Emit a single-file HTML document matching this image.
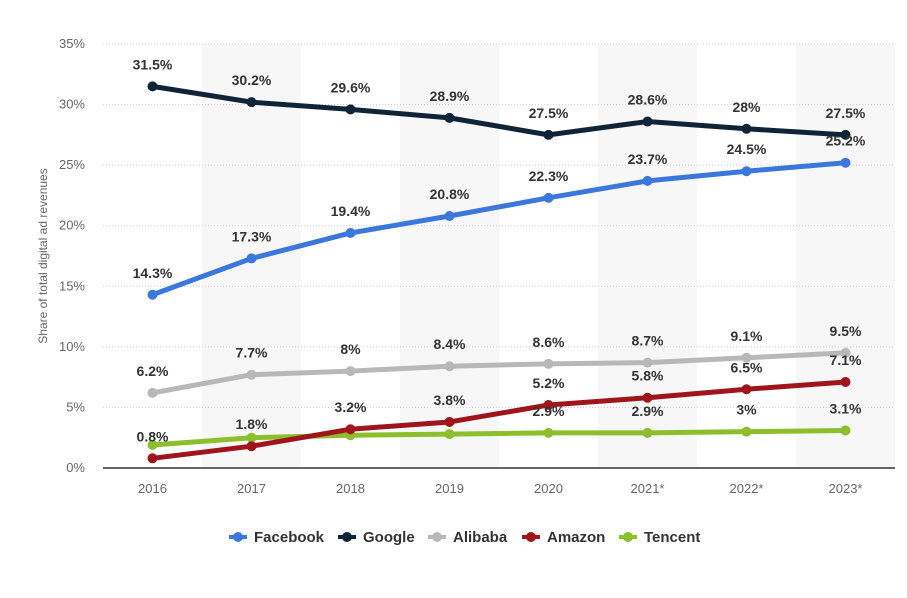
<!DOCTYPE html>
<html><head><meta charset="utf-8">
<style>
body{margin:0;background:#fff;font-family:"Liberation Sans",Arial,sans-serif;}
svg text{font-family:"Liberation Sans",Arial,sans-serif;}
</style></head>
<body>
<svg id="chart" width="907" height="593" xmlns="http://www.w3.org/2000/svg">
<g id="bands"></g><g id="grid"></g><g id="lines"></g><g id="labels"></g><g id="axes"></g><g id="legend"></g>
</svg>
<script>
const categories=["2016","2017","2018","2019","2020","2021*","2022*","2023*"];
const yTicks=[0,5,10,15,20,25,30,35];
const seriesNames=["Facebook","Google","Alibaba","Amazon","Tencent"];
const seriesColors=["#3b78dc","#0f2438","#b8b8b8","#a0151b","#8cbf2c"];
const facebook=[14.3,17.3,19.4,20.8,22.3,23.7,24.5,25.2];
const google=[31.5,30.2,29.6,28.9,27.5,28.6,28,27.5];
const alibaba=[6.2,7.7,8,8.4,8.6,8.7,9.1,9.5];
const amazon=[0.8,1.8,3.2,3.8,5.2,5.8,6.5,7.1];
const tencent=[1.9,2.5,2.7,2.8,2.9,2.9,3.0,3.1];
const facebookLabels=["14.3%","17.3%","19.4%","20.8%","22.3%","23.7%","24.5%","25.2%"];
const googleLabels=["31.5%","30.2%","29.6%","28.9%","27.5%","28.6%","28%","27.5%"];
const alibabaLabels=["6.2%","7.7%","8%","8.4%","8.6%","8.7%","9.1%","9.5%"];
const amazonLabels=["0.8%","1.8%","3.2%","3.8%","5.2%","5.8%","6.5%","7.1%"];
const tencentLabels=[null,null,null,null,"2.9%","2.9%","3%","3.1%"];
const NS="http://www.w3.org/2000/svg";
const x0=103,x1=895,y0=468,yTop=44;
const step=(x1-x0)/categories.length;
const xScale=i=>x0+step*(i+0.5);
const yScale=v=>y0-(v/35)*(y0-yTop);
function el(tag,attrs,parent){const e=document.createElementNS(NS,tag);for(const k in attrs)e.setAttribute(k,attrs[k]);parent.appendChild(e);return e;}
const bands=document.getElementById('bands'),grid=document.getElementById('grid'),lines=document.getElementById('lines'),labels=document.getElementById('labels'),axes=document.getElementById('axes'),legend=document.getElementById('legend');
categories.forEach((c,i)=>{
  if(i%2===1){const r=el('rect',{x:x0+step*i,y:yTop,width:step,height:y0-yTop,fill:'#f7f7f7'},bands);
  
  }
  const t=el('text',{x:xScale(i),y:493,'text-anchor':'middle','font-size':13,fill:'#666'},axes);t.textContent=c;
  
  
});
yTicks.forEach(v=>{
  if(v>0){const l=el('line',{x1:x0,x2:x1,y1:yScale(v),y2:yScale(v),stroke:'#ccc','stroke-dasharray':'1,2','stroke-width':1},grid);
  
  }
  const t=el('text',{x:85,y:yScale(v)+4,'text-anchor':'end','font-size':13,fill:'#666'},axes);t.textContent=v+'%';
  
  
});
const ax=el('line',{x1:x0,x2:x1,y1:y0,y2:y0,stroke:'#333','stroke-width':1.5},axes);


const yt=el('text',{x:47,y:256,'text-anchor':'middle','font-size':12,fill:'#666',transform:'rotate(-90 47 256)'},axes);yt.textContent='Share of total digital ad revenues';


const allData=[facebook,google,alibaba,amazon,tencent];
const allLabels=[facebookLabels,googleLabels,alibabaLabels,amazonLabels,tencentLabels];
[4,3,2,0,1].forEach(s=>{
  const d=allData[s];
  const p=el('polyline',{points:d.map((v,i)=>xScale(i)+','+yScale(v)).join(' '),fill:'none',stroke:seriesColors[s],'stroke-width':5,'stroke-linejoin':'round'},lines);
  
  
  d.forEach((v,i)=>{
    const c=el('circle',{cx:xScale(i),cy:yScale(v),r:5,fill:seriesColors[s]},lines);
    
    
    const lb=allLabels[s][i];
    if(lb){const t=el('text',{x:xScale(i),y:yScale(v)-17,'text-anchor':'middle','font-size':14,'font-weight':'bold',fill:'#333'},labels);t.textContent=lb;
    
    }
  });
});
const legX=[229,338,428,522,619];
seriesNames.forEach((n,s)=>{
  const g=el('g',{},legend);
  
  
  el('line',{x1:legX[s],x2:legX[s]+18,y1:537,y2:537,stroke:seriesColors[s],'stroke-width':4},g);
  el('circle',{cx:legX[s]+9,cy:537,r:5,fill:seriesColors[s]},g);
  const t=el('text',{x:legX[s]+25,y:542,'font-size':15,'font-weight':'bold',fill:'#333'},g);t.textContent=n;
});
</script>
</body></html>
